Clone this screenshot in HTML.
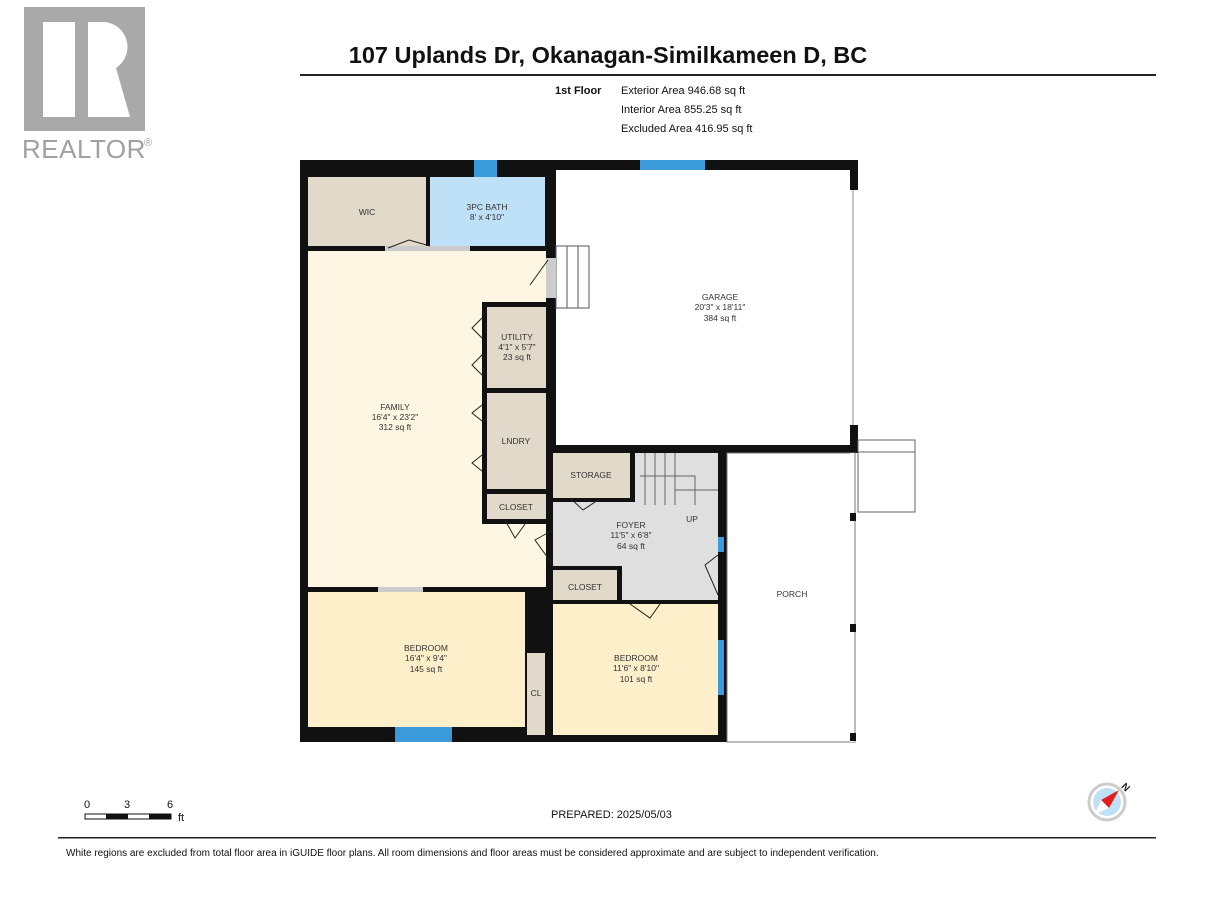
<!DOCTYPE html>
<html><head><meta charset="utf-8"><style>
body{margin:0;background:#fff;}
svg{display:block;font-family:"Liberation Sans",Arial,sans-serif;}
</style></head><body>
<svg width="1216" height="912" viewBox="0 0 1216 912" xmlns="http://www.w3.org/2000/svg">
<rect width="1216" height="912" fill="#fff"/>
<!-- logo -->
<rect x="24" y="7" width="121" height="124" fill="#a9a9a9"/>
<rect x="43" y="22" width="32" height="95" fill="#fff"/>
<path d="M88 22 H104 A25 25 0 0 1 116 68 L130 117 H88 Z" fill="#fff"/>
<text x="22" y="158" font-size="26" fill="#a0a0a0" letter-spacing="0.5">REALTOR</text>
<text x="144" y="146" font-size="11" fill="#a0a0a0">®</text>
<!-- header -->
<text x="608" y="63" font-size="23.5" font-weight="bold" text-anchor="middle" fill="#111">107 Uplands Dr, Okanagan-Similkameen D, BC</text>
<rect x="300" y="74" width="856" height="2" fill="#222"/>
<text x="555" y="94" font-size="11" font-weight="bold" fill="#111">1st Floor</text>
<text x="621" y="94" font-size="11" fill="#111">Exterior Area 946.68 sq ft</text>
<text x="621" y="113" font-size="11" fill="#111">Interior Area 855.25 sq ft</text>
<text x="621" y="132" font-size="11" fill="#111">Excluded Area 416.95 sq ft</text>
<!-- room fills -->
<rect x="300" y="160" width="558" height="582" fill="#111"/>
<rect x="308" y="177" width="118" height="69" fill="#e1d9c9"/>
<rect x="430" y="177" width="115" height="69" fill="#bfe1f8"/>
<rect x="556" y="170" width="294" height="275" fill="#fff"/>
<rect x="850" y="190" width="8" height="235" fill="#fff"/>
<line x1="853" y1="190" x2="853" y2="425" stroke="#888" stroke-width="1"/>
<rect x="308" y="251" width="238" height="336" fill="#fdf6e2"/>
<rect x="482" y="302" width="64" height="222" fill="#111"/>
<rect x="487" y="307" width="59" height="81" fill="#e1d9c9"/>
<rect x="487" y="393" width="59" height="96" fill="#e1d9c9"/>
<rect x="487" y="494" width="59" height="25" fill="#e1d9c9"/>
<rect x="308" y="592" width="217" height="135" fill="#fcefc9"/>
<rect x="527" y="653" width="18" height="82" fill="#e1d9c9"/>
<rect x="553" y="453" width="77" height="45" fill="#e1d9c9"/>
<rect x="553" y="502" width="165" height="98" fill="#dfdfdf"/>
<rect x="635" y="453" width="83" height="52" fill="#dfdfdf"/>
<rect x="553" y="566" width="69" height="34" fill="#111"/>
<rect x="553" y="570" width="64" height="30" fill="#e1d9c9"/>
<rect x="553" y="604" width="165" height="131" fill="#fcefc9"/>
<rect x="727" y="453" width="128" height="289" fill="#fff" stroke="#777" stroke-width="1"/>
<rect x="850" y="453" width="8" height="289" fill="#fff"/>
<line x1="855" y1="453" x2="855" y2="742" stroke="#777"/>
<rect x="850" y="513" width="6" height="8" fill="#111"/>
<rect x="850" y="624" width="6" height="8" fill="#111"/>
<rect x="850" y="733" width="6" height="8" fill="#111"/>
<!-- porch steps -->
<rect x="858" y="440" width="57" height="72" fill="#fff" stroke="#666"/>
<line x1="858" y1="452" x2="915" y2="452" stroke="#666"/>
<!-- garage stairs -->
<rect x="556" y="246" width="33" height="62" fill="#fff" stroke="#555"/>
<line x1="567" y1="246" x2="567" y2="308" stroke="#555"/><line x1="578" y1="246" x2="578" y2="308" stroke="#555"/>
<!-- foyer stairs -->
<g stroke="#666" fill="none"><line x1="645" y1="453" x2="645" y2="505"/><line x1="655" y1="453" x2="655" y2="505"/><line x1="665" y1="453" x2="665" y2="505"/><line x1="675" y1="453" x2="675" y2="505"/><line x1="675" y1="490" x2="718" y2="490"/><polyline points="640,476 695,476 695,505"/></g>
<!-- door openings -->
<rect x="385" y="246" width="85" height="5" fill="#ccc"/>
<rect x="378" y="587" width="45" height="5" fill="#ccc"/>
<rect x="546" y="258" width="10" height="40" fill="#ccc"/>
<g stroke="#222" fill="none" stroke-width="1"><polyline points="388,248 409,240 430,246"/><polyline points="530,285 548,260"/><polyline points="598,500 583,510 570,498"/><polyline points="505,520 515,538 528,520"/><polyline points="718,555 705,565 718,595"/><polyline points="630,604 650,618 660,604"/>
<polyline points="482,318 472,328 482,338"/><polyline points="482,355 472,365 482,375"/><polyline points="482,405 472,413 482,421"/><polyline points="482,455 472,463 482,471"/><polyline points="553,530 535,540 553,565"/></g>
<!-- windows -->
<g fill="#3b9ad9"><rect x="474" y="160" width="23" height="17"/><rect x="640" y="160" width="65" height="10"/><rect x="395" y="727" width="57" height="15"/><rect x="718" y="537" width="6" height="15"/><rect x="718" y="640" width="6" height="55"/></g>
<!-- labels -->
<g font-size="8.5" fill="#333" text-anchor="middle">
<text x="367" y="215">WIC</text>
<text x="487" y="210">3PC BATH</text><text x="487" y="220">8' x 4'10"</text>
<text x="720" y="300">GARAGE</text><text x="720" y="310">20'3" x 18'11"</text><text x="720" y="321">384 sq ft</text>
<text x="517" y="340">UTILITY</text><text x="517" y="350">4'1" x 5'7"</text><text x="517" y="360">23 sq ft</text>
<text x="395" y="410">FAMILY</text><text x="395" y="420">16'4" x 23'2"</text><text x="395" y="430">312 sq ft</text>
<text x="516" y="444">LNDRY</text>
<text x="516" y="510">CLOSET</text>
<text x="591" y="478">STORAGE</text>
<text x="631" y="528">FOYER</text><text x="631" y="538">11'5" x 6'8"</text><text x="631" y="549">64 sq ft</text>
<text x="692" y="522">UP</text>
<text x="585" y="590">CLOSET</text>
<text x="792" y="597">PORCH</text>
<text x="426" y="651">BEDROOM</text><text x="426" y="661">16'4" x 9'4"</text><text x="426" y="672">145 sq ft</text>
<text x="636" y="661">BEDROOM</text><text x="636" y="671">11'6" x 8'10"</text><text x="636" y="682">101 sq ft</text>
<text x="536" y="696">CL</text>
</g>
<!-- scale -->
<g font-size="11" fill="#111"><text x="84" y="808">0</text><text x="124" y="808">3</text><text x="167" y="808">6</text><text x="178" y="821">ft</text></g>
<rect x="85" y="814" width="86" height="5" fill="#fff" stroke="#111"/>
<rect x="106" y="814" width="22" height="5" fill="#111"/><rect x="149" y="814" width="22" height="5" fill="#111"/>
<text x="551" y="818" font-size="11" fill="#111">PREPARED: 2025/05/03</text>
<!-- compass -->
<circle cx="1107" cy="802" r="18" fill="#fff" stroke="#ccc" stroke-width="3"/>
<circle cx="1107" cy="802" r="14" fill="#bfe1f8"/>
<polygon points="1119,790 1109,808 1101,800" fill="#e02020"/>
<polygon points="1095,814 1109,808 1101,800" fill="#fff"/>
<text x="1122" y="790" font-size="10" font-weight="bold" fill="#222" transform="rotate(45 1125 787)">N</text>
<rect x="58" y="837" width="1098" height="1.5" fill="#222"/>
<text x="66" y="856" font-size="10" fill="#111">White regions are excluded from total floor area in iGUIDE floor plans. All room dimensions and floor areas must be considered approximate and are subject to independent verification.</text>
</svg>
</body></html>
